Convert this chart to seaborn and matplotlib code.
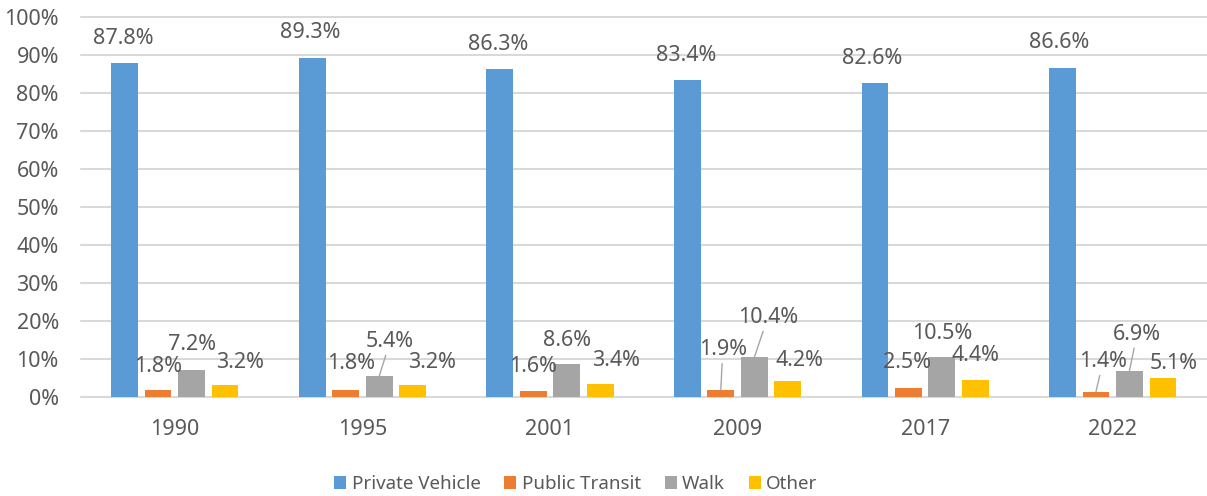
import matplotlib
matplotlib.use("Agg")
import matplotlib.pyplot as plt
import seaborn as sns
import pandas as pd

# ---- data ----
years = ["1990", "1995", "2001", "2009", "2017", "2022"]
modes = ["Private Vehicle", "Public Transit", "Walk", "Other"]
private_vehicle = [87.8, 89.3, 86.3, 83.4, 82.6, 86.6]
public_transit = [1.8, 1.8, 1.6, 1.9, 2.5, 1.4]
walk = [7.2, 5.4, 8.6, 10.4, 10.5, 6.9]
other = [3.2, 3.2, 3.4, 4.2, 4.4, 5.1]
y_ticks = [0, 10, 20, 30, 40, 50, 60, 70, 80, 90, 100]

series = {
    "Private Vehicle": private_vehicle,
    "Public Transit": public_transit,
    "Walk": walk,
    "Other": other,
}
df = pd.DataFrame(
    [(y, m, series[m][i]) for m in modes for i, y in enumerate(years)],
    columns=["Year", "Mode", "Share"],
)

# ---- style ----
colors = ["#5B9BD5", "#ED7D31", "#A5A5A5", "#FFC000"]
text_color = "#595959"
grid_color = "#D9D9D9"
fs = 15.5
legend_fs = 13.5

sns.set_theme(style="white")
plt.rcParams["font.family"] = ["Noto Sans", "DejaVu Sans"]

# label offsets (pixels: right, up) and whether a leader line is drawn
default_off = (0, 25, False)
label_offsets = {
    ("Private Vehicle", "1990"): (-1.5, 25, False),
    ("Private Vehicle", "1995"): (-1.5, 25, False),
    ("Private Vehicle", "2001"): (-1.5, 25, False),
    ("Private Vehicle", "2009"): (-1.5, 25, False),
    ("Private Vehicle", "2017"): (-2.5, 25, False),
    ("Private Vehicle", "2022"): (-3, 25, False),
    ("Public Transit", "1990"): (0, 24, False),
    ("Public Transit", "1995"): (5, 27, False),
    ("Public Transit", "2001"): (0, 24, False),
    ("Public Transit", "2009"): (2, 40, True),
    ("Public Transit", "2017"): (-1, 24.5, False),
    ("Public Transit", "2022"): (7, 30, True),
    ("Walk", "1990"): (0, 25, False),
    ("Walk", "1995"): (11, 35, True),
    ("Walk", "2001"): (0, 24, False),
    ("Walk", "2009"): (13.5, 40, True),
    ("Walk", "2017"): (0, 24, False),
    ("Walk", "2022"): (7.5, 36.5, True),
    ("Other", "1990"): (15, 22, False),
    ("Other", "1995"): (19, 22, False),
    ("Other", "2001"): (16, 24, False),
    ("Other", "2009"): (12, 20.5, False),
    ("Other", "2017"): (0, 25, False),
    ("Other", "2022"): (10.7, 14.3, False),
}

fig = plt.figure(figsize=(12.07, 4.96), dpi=100)
ax = fig.add_axes([81 / 1207, 99 / 496, 1125.5 / 1207, 380 / 496])

sns.barplot(
    data=df, x="Year", y="Share", hue="Mode", order=years, hue_order=modes,
    palette=colors, saturation=1, width=0.714, gap=0.2,
    edgecolor="none", linewidth=0, ax=ax,
)

ax.set_ylim(0, 100)
ax.set_yticks(y_ticks)
ax.set_yticklabels([f"{t}%" for t in y_ticks])
ax.set_xlabel("")
ax.set_ylabel("")
for s in ax.spines.values():
    s.set_visible(False)
ax.yaxis.grid(True, color=grid_color, linewidth=1.5)
ax.xaxis.grid(False)
ax.set_axisbelow(True)
ax.tick_params(axis="y", length=0, pad=16, labelsize=fs, labelcolor=text_color)
ax.tick_params(axis="x", length=0, pad=16, labelsize=fs, labelcolor=text_color)
for gl in ax.get_ygridlines():
    gl.set_clip_on(False)

# data labels
for mode, cont in zip(modes, ax.containers):
    for year, bar in zip(years, cont):
        h = bar.get_height()
        xc = bar.get_x() + bar.get_width() / 2
        dx, dy, leader = label_offsets.get((mode, year), default_off)
        kw = {}
        if leader:
            kw["arrowprops"] = dict(arrowstyle="-", color="#A6A6A6", lw=1.0,
                                    shrinkA=0, shrinkB=0)
        ax.annotate(f"{h:.1f}%", xy=(xc, h), xytext=(dx, dy),
                    textcoords="offset pixels", ha="center", va="center",
                    fontsize=fs, color=text_color, annotation_clip=False, **kw)

handles, labels = ax.get_legend_handles_labels()
if ax.get_legend() is not None:
    ax.get_legend().remove()
leg = fig.legend(
    handles, labels, loc="center", bbox_to_anchor=(576 / 1207, 1 - 484 / 496),
    ncol=4, frameon=False, fontsize=legend_fs, handlelength=0.64,
    handleheight=0.64, handletextpad=0.28, columnspacing=1.28,
    labelcolor=text_color,
)

fig.savefig("out.png", dpi=100, facecolor="white")
